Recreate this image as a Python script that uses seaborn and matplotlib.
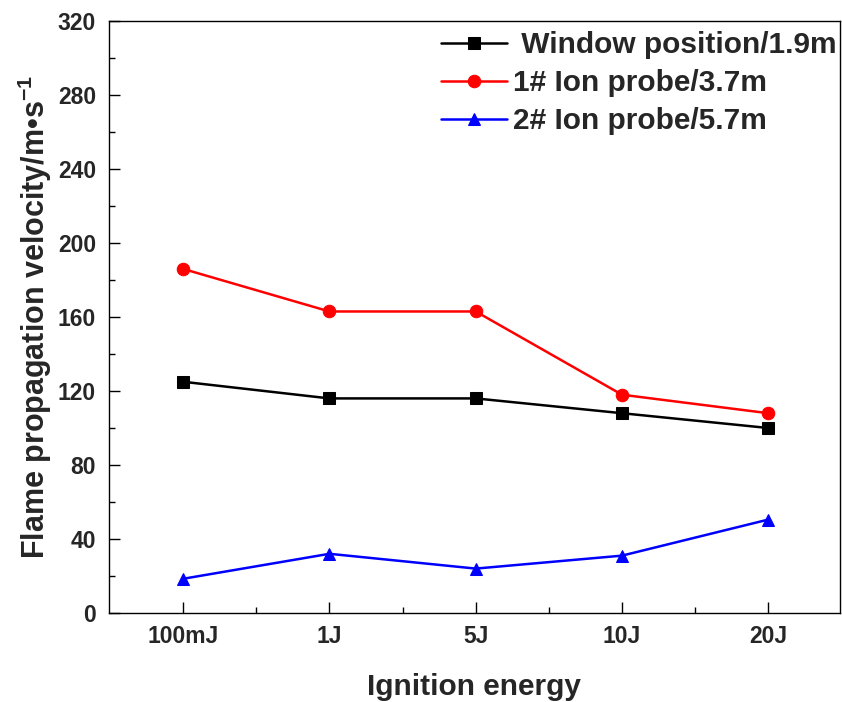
import matplotlib
matplotlib.use("Agg")
import matplotlib.pyplot as plt
import seaborn as sns
import pandas as pd
from matplotlib.ticker import MultipleLocator, FixedLocator

categories = ["100mJ", "1J", "5J", "10J", "20J"]
window_1_9m = [125, 116, 116, 108, 100]
probe1_3_7m = [186, 163, 163, 118, 108]
probe2_5_7m = [18.5, 32, 24, 31, 50.5]
series_names = [" Window position/1.9m", "1# Ion probe/3.7m", "2# Ion probe/5.7m"]

sns.set_theme(style="ticks")
plt.rcParams['font.family'] = ['Liberation Sans', 'DejaVu Sans']
plt.rcParams['mathtext.fontset'] = 'custom'
plt.rcParams['mathtext.rm'] = 'Liberation Sans'
plt.rcParams['mathtext.bf'] = 'Liberation Sans:bold'

rows = []
for name, vals in zip(series_names, [window_1_9m, probe1_3_7m, probe2_5_7m]):
    for i, (c, v) in enumerate(zip(categories, vals)):
        rows.append({"pos": i, "energy": c, "velocity": v, "series": name})
df = pd.DataFrame(rows)

fig = plt.figure(figsize=(8.42, 7.02), dpi=100)
ax = fig.add_axes([0.1289, 0.1268, 0.9976 - 0.1289, 0.970 - 0.1268])

colors = ["black", "#ff0000", "#0000ff"]
markers = ["s", "o", "^"]
for name, col, mk in zip(series_names, colors, markers):
    sub = df[df["series"] == name]
    sns.lineplot(data=sub, x="pos", y="velocity", ax=ax, color=col, marker=mk,
                 markersize=9, markeredgecolor=col, linewidth=1.8, label=name,
                 sort=False)

ax.set_xlim(-0.51, 4.49)
ax.set_ylim(0, 320)
ax.xaxis.set_major_locator(FixedLocator(range(len(categories))))
ax.set_xticklabels(categories)
ax.xaxis.set_minor_locator(FixedLocator([i + 0.5 for i in range(len(categories) - 1)]))
ax.yaxis.set_major_locator(MultipleLocator(40))
ax.yaxis.set_minor_locator(MultipleLocator(20))

ax.tick_params(which="major", direction="in", length=8, width=1.0, color="black",
               labelsize=16.5, pad=9)
ax.tick_params(which="minor", direction="in", length=4, width=1.0, color="black")
for lbl in ax.get_xticklabels() + ax.get_yticklabels():
    lbl.set_fontweight("bold")

for sp in ax.spines.values():
    sp.set_visible(True)
    sp.set_linewidth(1.0)
    sp.set_color("black")

ax.set_xlabel("Ignition energy", fontsize=21.5, fontweight="bold", labelpad=18)
ax.set_ylabel(r"Flame propagation velocity/m•s$^{\mathbf{-1}}$", fontsize=22,
              fontweight="bold", labelpad=3)

leg = ax.legend(loc="upper right", bbox_to_anchor=(1.003, 0.993), frameon=False,
                handlelength=2.2, handletextpad=0.2, labelspacing=0.34,
                borderaxespad=0.0, borderpad=0.2,
                prop={"weight": "bold", "size": 21.5})

fig.savefig("out.png", dpi=100)
